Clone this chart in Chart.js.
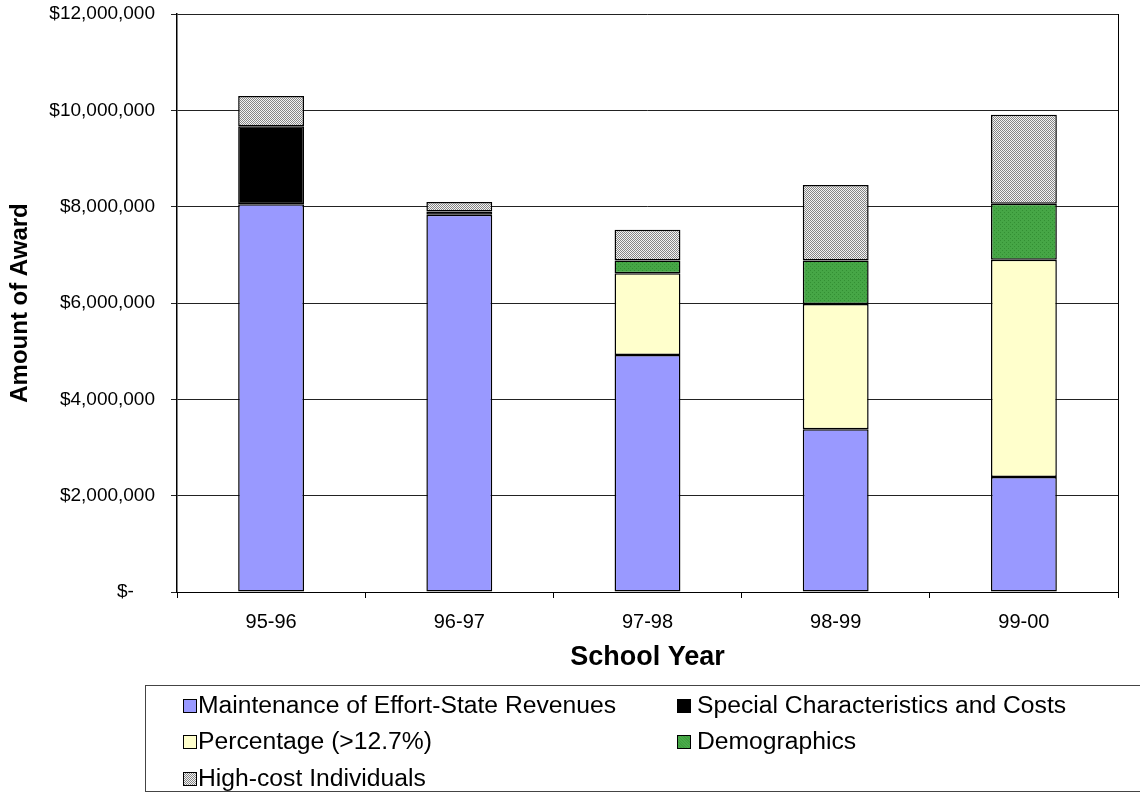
<!DOCTYPE html>
<html>
<head>
<meta charset="utf-8">
<script src="https://cdn.jsdelivr.net/npm/chart.js@4.4.1/dist/chart.umd.min.js"></script>
<style>
  body { margin: 0; background: #fff; font-family: "Liberation Sans", Arial, sans-serif; }
  #wrap { position: relative; width: 1140px; height: 795px; overflow: hidden; }
  #legend { position: absolute; left: 145px; top: 685px; width: 1010px; height: 107px;
            border: 1px solid #444; box-sizing: border-box; }
  .item { position: absolute; font-size: 24.7px; line-height: 28px; color: #000; white-space: nowrap; }
  .sw { position: absolute; width: 12px; height: 12px; border: 1px solid #000; top: 8px; left: 0; }
  .item span.t { position: absolute; top: 0; }
</style>
</head>
<body>
<div id="wrap">
  <canvas id="awards" width="1140" height="795"></canvas>
  <div id="legend"></div>
</div>
<script>
var years = ['95-96', '96-97', '97-98', '98-99', '99-00'];
var maintenance = [8050000, 7830000, 4920000, 3380000, 2390000];
var special = [1620000, 70000, null, null, null];
var percentage = [null, null, 1700000, 2600000, 4510000];
var demographics = [null, null, 260000, 900000, 1160000];
var highCost = [630000, 195000, 640000, 1570000, 1850000];
var yTicks = [0, 2000000, 4000000, 6000000, 8000000, 10000000, 12000000];

var seriesNames = ['Maintenance of Effort-State Revenues', 'Special Characteristics and Costs',
  'Percentage (>12.7%)', 'Demographics', 'High-cost Individuals'];

var FONT = '"Liberation Sans", Arial, sans-serif';

// little textures like the old excel fills
function makePattern(base, dot, test) {
  var c = document.createElement('canvas');
  c.width = 4; c.height = 4;
  var g = c.getContext('2d');
  g.fillStyle = base;
  g.fillRect(0, 0, 4, 4);
  g.fillStyle = dot;
  for (var x = 0; x < 4; x++) {
    for (var y = 0; y < 4; y++) {
      if (test(x, y)) g.fillRect(x, y, 1, 1);
    }
  }
  return document.getElementById('awards').getContext('2d').createPattern(c, 'repeat');
}

var hatch = makePattern('#f4f4f4', '#858585', function (x, y) { return (x + y) % 2 == 0; });
var greenFill = makePattern('#46a646', '#338f33', function (x, y) { return (x + y) % 4 == 0 && x % 2 == 0; });

var fills = ['#9999ff', '#000000', '#ffffcc', greenFill, hatch];
var swatchCss = ['#9999ff', '#000000', '#ffffcc',
  'repeating-linear-gradient(45deg,#3f9f3f 0 1px,#4aab4a 1px 2px)',
  'repeating-conic-gradient(#858585 0 25%,#f4f4f4 0 50%) 0 0/2px 2px'];
var seriesData = [maintenance, special, percentage, demographics, highCost];

var datasets = [];
for (var i = 0; i < seriesData.length; i++) {
  datasets.push({
    label: seriesNames[i],
    data: seriesData[i],
    backgroundColor: fills[i],
    borderColor: '#000',
    borderWidth: 1.5,
    borderSkipped: false,
    barPercentage: 0.35,
    categoryPercentage: 1
  });
}

var frame = {
  id: 'frame',
  afterDraw: function (chart) {
    var a = chart.chartArea, ctx = chart.ctx;
    ctx.save();
    ctx.strokeStyle = '#000';
    ctx.lineWidth = 1;
    ctx.beginPath();
    ctx.moveTo(a.right + 0.5, a.top);
    ctx.lineTo(a.right + 0.5, a.bottom);
    ctx.stroke();
    ctx.restore();
  }
};

var awardsChart = new Chart(document.getElementById('awards').getContext('2d'), {
  type: 'bar',
  data: { labels: years, datasets: datasets },
  options: {
    responsive: false,
    animation: false,
    layout: { padding: { top: 14, right: 22, bottom: 118, left: 0 } },
    plugins: { legend: { display: false }, tooltip: { enabled: false } },
    scales: {
      x: {
        stacked: true,
        grid: { drawOnChartArea: false, drawTicks: true, tickLength: 6, color: '#000' },
        border: { color: '#000', width: 1 },
        ticks: { color: '#000', font: { family: FONT, size: 20 }, padding: 12 },
        title: { display: true, text: 'School Year', color: '#000',
                 font: { family: FONT, size: 27, weight: 'bold' }, padding: { top: 0, bottom: 3 } },
        afterFit: function (s) { s.height = 85; s.paddingLeft = 0; s.paddingRight = 0; }
      },
      y: {
        stacked: true,
        min: 0,
        max: 12000000,
        afterBuildTicks: function (s) { s.ticks = yTicks.map(function (v) { return { value: v }; }); },
        grid: { color: '#222', lineWidth: 1, tickLength: 6 },
        border: { color: '#000', width: 1.5 },
        ticks: {
          color: '#000', font: { family: FONT, size: 19 }, padding: 16,
          // accounting style zero, dash sits left of the column edge
          callback: function (v) { return v === 0 ? '$-    ' : '$' + v.toLocaleString('en-US'); }
        },
        title: { display: true, text: 'Amount of Award', color: '#000',
                 font: { family: FONT, size: 24, weight: 'bold' }, padding: { top: 6, bottom: 0 } },
        afterFit: function (s) { s.width = 177; s.paddingTop = 0; s.paddingBottom = 0; }
      }
    }
  },
  plugins: [frame]
});

// legend in two columns, like the original
var legend = document.getElementById('legend');
var spots = [[37, 5, 15], [531, 5, 20], [37, 41, 15], [531, 41, 20], [37, 78, 15]];
for (var k = 0; k < seriesNames.length; k++) {
  var it = document.createElement('div');
  it.className = 'item';
  it.style.left = spots[k][0] + 'px';
  it.style.top = spots[k][1] + 'px';
  var sw = document.createElement('div');
  sw.className = 'sw';
  sw.style.background = swatchCss[k];
  var t = document.createElement('span');
  t.className = 't';
  t.style.left = spots[k][2] + 'px';
  t.textContent = seriesNames[k];
  it.appendChild(sw);
  it.appendChild(t);
  legend.appendChild(it);
}
</script>
</body>
</html>
